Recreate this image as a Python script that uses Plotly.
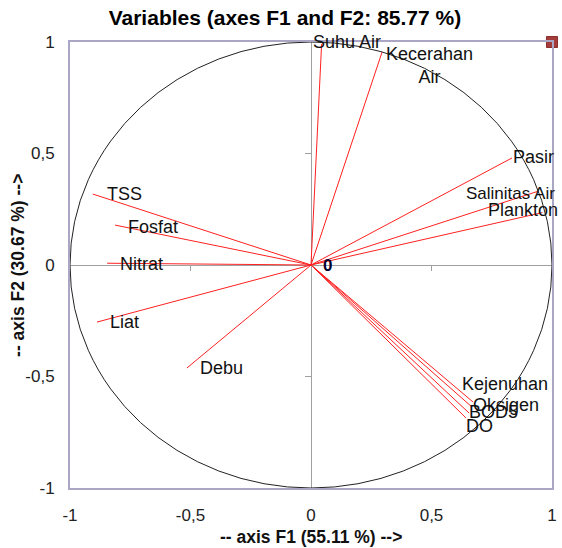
import plotly.graph_objects as go

# ---- data ----
variables = ["Suhu Air", "Kecerahan<br>Air", "Pasir", "Salinitas Air", "Plankton",
             "TSS", "Fosfat", "Nitrat", "Liat", "Debu",
             "Kejenuhan", "Oksigen", "BOD5", "DO"]
f1 = [0.044, 0.295, 0.834, 0.94, 0.96,
      -0.905, -0.813, -0.846, -0.888, -0.515,
      0.672, 0.668, 0.656, 0.643]
f2 = [0.991, 0.955, 0.48, 0.33, 0.235,
      0.318, 0.179, 0.008, -0.256, -0.462,
      -0.614, -0.637, -0.664, -0.686]
tick_vals = [-1, -0.5, 0, 0.5, 1]
tick_text = ["-1", "-0,5", "0", "0,5", "1"]

# label offsets in pixels (dx right, dy up) relative to vector end, and label sizes
label_dx = [-11, 2, -1, -74, -56, 12, 11, 11, 11, 11, -13, -1, -2, -2]
label_dy = [2, -13, 1, -2, 3, 0, -2, -1, 0, 0, 18, 2, 1, -8]
label_size = [18, 18, 18, 17, 18, 18, 18, 18, 18, 18, 18, 18, 18, 18]

FONT = "Liberation Sans, Arial, sans-serif"

fig = go.Figure()

# vectors
for name, x, y in zip(variables, f1, f2):
    fig.add_trace(go.Scatter(x=[0, x], y=[0, y], mode="lines",
                             line=dict(color="#ff2020", width=1),
                             hoverinfo="skip", showlegend=False))

# corner marker
fig.add_trace(go.Scatter(x=[1], y=[1], mode="markers",
                         marker=dict(symbol="square", size=11, color="#a63c3a",
                                     line=dict(color="#8c2e2e", width=1)),
                         cliponaxis=False, showlegend=False, hoverinfo="skip"))

# unit circle
fig.add_shape(type="circle", xref="x", yref="y", x0=-1, y0=-1, x1=1, y1=1,
              line=dict(color="#222222", width=1), layer="above")

# small ticks on the zero axes
for v in [-0.5, 0.5]:
    fig.add_shape(type="line", xref="x", yref="y", x0=v, x1=v,
                  ysizemode="pixel", yanchor=0, y0=0, y1=-6,
                  line=dict(color="#a0a0a0", width=1))
    fig.add_shape(type="line", xref="x", yref="y", y0=v, y1=v,
                  xsizemode="pixel", xanchor=0, x0=0, x1=-6,
                  line=dict(color="#a0a0a0", width=1))

annotations = []
for name, x, y, dx, dy, sz in zip(variables, f1, f2, label_dx, label_dy, label_size):
    annotations.append(dict(x=x, y=y, xref="x", yref="y", text=name,
                            showarrow=False, xanchor="left", yanchor="middle",
                            xshift=dx, yshift=dy, align="center",
                            font=dict(family=FONT, size=sz, color="#111111")))
annotations.append(dict(x=0, y=0, xref="x", yref="y", text="<b>0</b>",
                        showarrow=False, xanchor="left", yanchor="middle",
                        xshift=10, yshift=0,
                        font=dict(family=FONT, size=17, color="#000030")))
# axis titles
annotations.append(dict(x=0.5, y=-0.11, xref="paper", yref="paper",
                        text="<b>-- axis F1 (55.11 %) --></b>", showarrow=False,
                        xanchor="center", yanchor="middle",
                        font=dict(family=FONT, size=17.5, color="#111111")))
annotations.append(dict(x=-0.108, y=0.5, xref="paper", yref="paper",
                        text="<b>-- axis F2 (30.67 %) --></b>", showarrow=False,
                        xanchor="center", yanchor="middle", textangle=-90,
                        font=dict(family=FONT, size=17.5, color="#111111")))

axis_common = dict(range=[-1, 1], tickvals=tick_vals, ticktext=tick_text,
                   showgrid=False, zeroline=True, zerolinecolor="#a0a0a0",
                   zerolinewidth=1, showline=True, mirror=True,
                   linecolor="#aaa6c6", linewidth=2, ticks="", automargin=False,
                   tickfont=dict(family=FONT, size=17, color="#222222"))

fig.update_layout(
    width=562, height=548,
    margin=dict(l=70, r=10, t=42, b=60),
    paper_bgcolor="white", plot_bgcolor="white",
    title=dict(text="<b>Variables (axes F1 and F2: 85.77 %)</b>",
               x=0.507, xanchor="center", y=0.967, yanchor="middle",
               font=dict(family=FONT, size=21, color="#000000")),
    xaxis=dict(**axis_common, ticklabelstandoff=11),
    yaxis=dict(**axis_common, ticklabelstandoff=10),
    annotations=annotations,
    showlegend=False,
)

fig.write_html("out.html",
               config={"displayModeBar": False},
               post_script="document.body.style.margin='0';"
                           "document.body.style.overflow='hidden';")
